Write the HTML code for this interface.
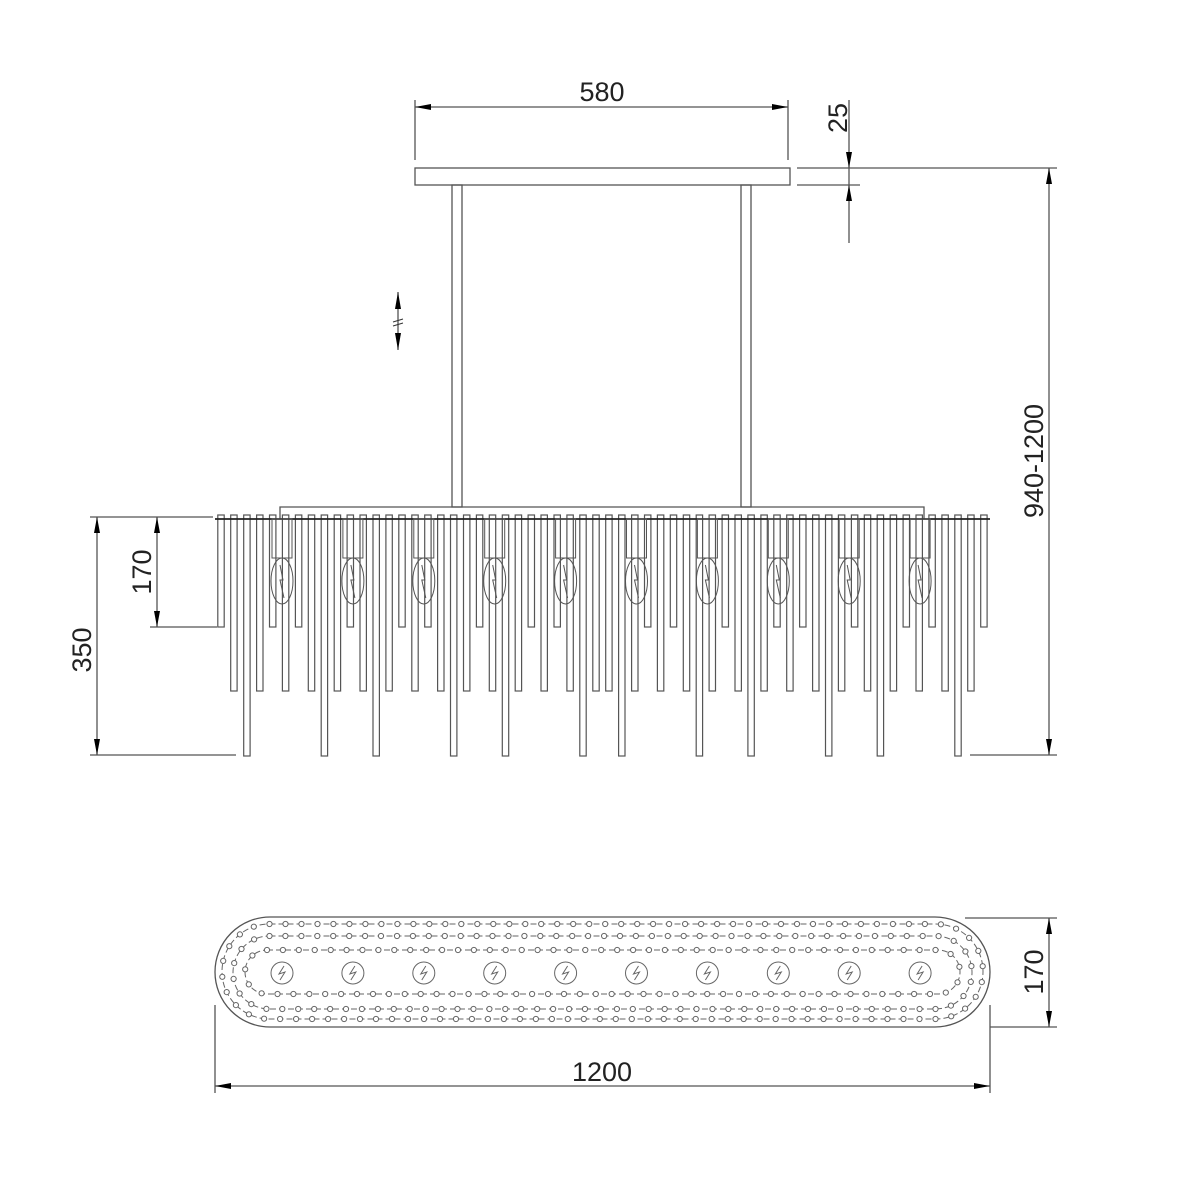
<!DOCTYPE html>
<html><head><meta charset="utf-8"><style>
html,body{margin:0;padding:0;background:#fff}
svg{display:block}
text{font-family:"Liberation Sans Narrow","Liberation Sans",sans-serif;font-size:27px;fill:#222}
</style></head><body>
<svg id="s" width="1200" height="1200" viewBox="0 0 1200 1200" xmlns="http://www.w3.org/2000/svg">
<g stroke="#555" stroke-width="1.3" fill="none">
<rect x="415" y="168" width="375" height="17"/>
<rect x="452" y="185" width="10" height="322"/>
<rect x="741" y="185" width="10" height="322"/>
<path d="M280 519 V507 H924 V519"/>
<path d="M415 100 V160 M788 100 V160 M415 107 H788"/>
<path d="M797 168 H1057 M797 185 H860 M849 100 V243"/>
<path d="M1049 168 V755 M970 755 H1057"/>
<path d="M90 517 H213 M90 755 H236 M97 517 V755 M150 517 H213 M150 627 H217 M157 517 V627"/>
<path d="M398 292 V350"/>
<path d="M965 918 H1057 M990 1027 H1057 M1049 918 V1027"/>
<path d="M215 1005 V1093 M990 1005 V1093 M215 1086 H990"/>
<rect x="215" y="917" width="775" height="110" rx="55" ry="55"/>
</g>
<g id="rods" stroke="#555" stroke-width="1.2" fill="#fff"></g>
<line x1="215" y1="519" x2="990" y2="519" stroke="#222" stroke-width="1.8"/>
<g id="bulbs" stroke="#555" stroke-width="1" fill="none"></g>
<g id="plan" stroke="#666" stroke-width="1" fill="#fff"></g>
<g fill="#000">
<polygon points="415,107 431,104 431,110"/><polygon points="788,107 772,104 772,110"/>
<polygon points="849,168 846,152 852,152"/><polygon points="849,185 846,201 852,201"/>
<polygon points="1049,168 1046,184 1052,184"/><polygon points="1049,755 1046,739 1052,739"/>
<polygon points="97,517 94,533 100,533"/><polygon points="97,755 94,739 100,739"/>
<polygon points="157,517 154,533 160,533"/><polygon points="157,627 154,611 160,611"/>
<polygon points="398,292 395,309 401,309"/><polygon points="398,350 395,333 401,333"/>
<polygon points="1049,918 1046,934 1052,934"/><polygon points="1049,1027 1046,1011 1052,1011"/>
<polygon points="215,1086 231,1083 231,1089"/><polygon points="990,1086 974,1083 974,1089"/>
</g>
<path d="M393 322 L403 319 M393 326 L403 323" stroke="#333" stroke-width="1"/>
<text x="602" y="101" text-anchor="middle">580</text>
<text transform="translate(847,118) rotate(-90)" text-anchor="middle">25</text>
<text transform="translate(1043,461) rotate(-90)" text-anchor="middle">940-1200</text>
<text transform="translate(91,650) rotate(-90)" text-anchor="middle">350</text>
<text transform="translate(151,572) rotate(-90)" text-anchor="middle">170</text>
<text transform="translate(1043,972) rotate(-90)" text-anchor="middle">170</text>
<text x="602" y="1081" text-anchor="middle">1200</text>
</svg>
<script>
var NS="http://www.w3.org/2000/svg";
function el(p,t,a){var e=document.createElementNS(NS,t);for(var k in a)e.setAttribute(k,a[k]);p.appendChild(e);return e;}
var pat="SMLMSMSMLMSMLMSMSMLMSMLMSMSMLMMLMSMSMLMSMLMSMSMLMSMLMSMSMLMS";
var rods=document.getElementById("rods");
var bot={S:627,M:691,L:756};
for(var i=0;i<60;i++){var x=221+12.93*i;el(rods,"rect",{x:(x-3.2).toFixed(1),y:515,width:6.4,height:bot[pat[i]]-515});}
var bulbs=document.getElementById("bulbs");
for(var k=0;k<10;k++){var cx=282+70.9*k;
el(bulbs,"rect",{x:cx-10,y:519,width:20,height:39});
el(bulbs,"ellipse",{cx:cx,cy:581,rx:11,ry:23});
el(bulbs,"path",{d:"M"+(cx-2)+" 565 L"+(cx+1)+" 580 L"+(cx-2)+" 580 L"+(cx+2)+" 598"});}
var plan=document.getElementById("plan");
function loop(t,b,l,r){var R=(b-t)/2,cy=(t+b)/2,x1=l+R,x2=r-R;
el(plan,"rect",{x:l,y:t,width:r-l,height:b-t,rx:R,ry:R,fill:"none","stroke-dasharray":"6 3"});
var L=2*(x2-x1)+2*Math.PI*R,n=Math.round(L/16),st=L/n;
for(var j=0;j<n;j++){var s=j*st,x,y;
if(s<x2-x1){x=x1+s;y=t;}else if((s-=x2-x1)<Math.PI*R){var a=-Math.PI/2+s/R;x=x2+R*Math.cos(a);y=cy+R*Math.sin(a);}
else if((s-=Math.PI*R)<x2-x1){x=x2-s;y=b;}else{s-=x2-x1;var a2=Math.PI/2+s/R;x=x1+R*Math.cos(a2);y=cy+R*Math.sin(a2);}
el(plan,"circle",{cx:x.toFixed(1),cy:y.toFixed(1),r:2.6});}}
loop(924,1019,222,983);loop(936,1009,233,972);loop(950,994,245,960);
for(var k=0;k<10;k++){var cx=282+70.9*k;el(plan,"circle",{cx:cx,cy:973,r:11});
el(plan,"path",{d:"M"+(cx+2)+" 966 L"+(cx-3)+" 974 L"+(cx+3)+" 972 L"+(cx-2)+" 980",fill:"none"});}
</script>
</body></html>
